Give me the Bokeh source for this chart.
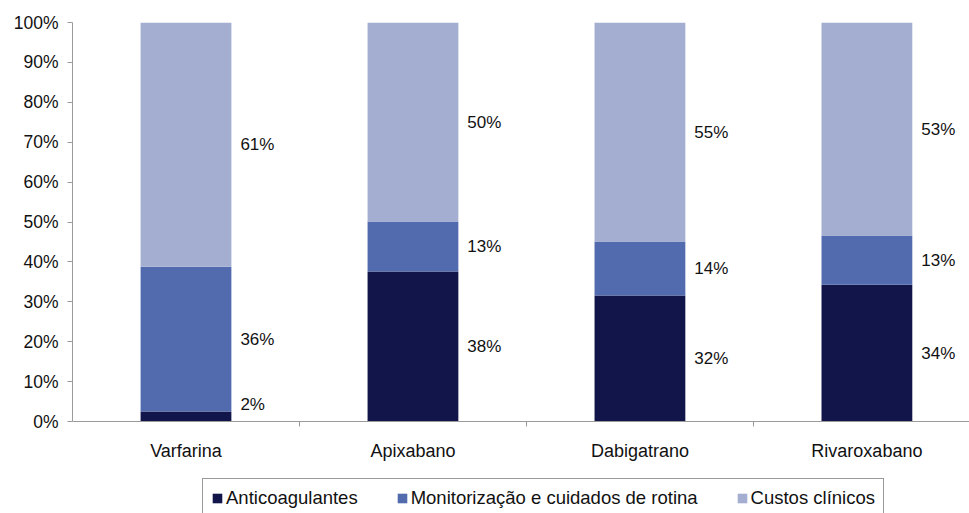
from bokeh.plotting import figure
from bokeh.models import Range1d, FixedTicker, Legend, LegendItem, ColumnDataSource
from bokeh.core.properties import value
from bokeh.embed import file_html
from bokeh.resources import INLINE

categories = ["Varfarina", "Apixabano", "Dabigatrano", "Rivaroxabano"]
series_names = ["Anticoagulantes", "Monitorização e cuidados de rotina", "Custos clínicos"]
anticoagulantes = [2.5, 37.6, 31.6, 34.3]
monitorizacao = [36.3, 12.5, 13.5, 12.3]
custos = [61.2, 49.9, 54.9, 53.4]
label_anti = ["2%", "38%", "32%", "34%"]
label_mon = ["36%", "13%", "14%", "13%"]
label_cus = ["61%", "50%", "55%", "53%"]
y_ticks = [0, 10, 20, 30, 40, 50, 60, 70, 80, 90, 100]

colors = ["#12154a", "#526bae", "#a4aed1"]
FONT = "Liberation Sans"

xs = list(range(len(categories)))
src = ColumnDataSource(dict(x=xs, a=anticoagulantes, m=monitorizacao, c=custos))

# frame spans to the canvas bottom; y=0 sits 92px above it (399px per 100%)
p = figure(width=969, height=513, output_backend="svg", toolbar_location=None,
           x_range=Range1d(-0.5, 3.452), y_range=Range1d(-92 / 3.99, 100),
           min_border_left=72, min_border_right=0, min_border_top=22, min_border_bottom=0)
p.outline_line_color = None
p.grid.visible = False
p.background_fill_color = "white"

rs = p.vbar_stack(["a", "m", "c"], x="x", width=0.4, source=src, color=colors, line_color=None)

# labels
lx, ly, lt = [], [], []
for i in xs:
    a, m, c = anticoagulantes[i], monitorizacao[i], custos[i]
    for base, h, t in [(0, a, label_anti[i]), (a, m, label_mon[i]), (a + m, c, label_cus[i])]:
        lx.append(i + 0.2)
        ly.append(max(base + h / 2, 4.3))
        lt.append(t)
p.text(x=lx, y=ly, text=lt, x_offset=9, text_align="left", text_baseline="middle",
       text_font=value(FONT), text_font_size="17px", text_color="#111111")

# y axis
yax = p.yaxis[0]
yax.bounds = (0, 100)
yax.ticker = FixedTicker(ticks=y_ticks)
yax.major_label_overrides = {t: f"{t}%" for t in y_ticks}
yax.axis_line_color = "#9a9a9a"
yax.major_tick_line_color = "#9a9a9a"
yax.major_tick_out = 5
yax.major_tick_in = 0
yax.minor_tick_line_color = None
yax.major_label_text_font = FONT
yax.major_label_text_font_size = "17.5px"
yax.major_label_text_color = "#111111"
yax.major_label_standoff = 9

# x axis fixed at y = 0
xax = p.xaxis[0]
xax.fixed_location = 0
xax.ticker = FixedTicker(ticks=xs, minor_ticks=[i + 0.5 for i in xs])
xax.major_label_overrides = {i: c for i, c in enumerate(categories)}
xax.axis_line_color = "#9a9a9a"
xax.major_tick_line_color = None
xax.major_tick_out = 0
xax.major_tick_in = 0
xax.minor_tick_line_color = "#9a9a9a"
xax.minor_tick_out = 5
xax.minor_tick_in = 0
xax.major_label_text_font = FONT
xax.major_label_text_font_size = "18px"
xax.major_label_text_color = "#111111"
xax.major_label_standoff = 14

legend = Legend(items=[LegendItem(label=n, renderers=[r]) for n, r in zip(series_names, rs)],
                orientation="horizontal", location=(130, -5))
legend.label_text_font = FONT
legend.label_text_font_size = "18.5px"
legend.label_text_color = "#111111"
legend.glyph_width = 12
legend.glyph_height = 12
legend.label_standoff = 3
legend.spacing = 38
legend.padding = 8
legend.margin = 0
legend.border_line_color = "#333333"
legend.border_line_width = 1
legend.background_fill_alpha = 1
p.add_layout(legend, "center")

open("out.html", "w").write(file_html(p, INLINE))
